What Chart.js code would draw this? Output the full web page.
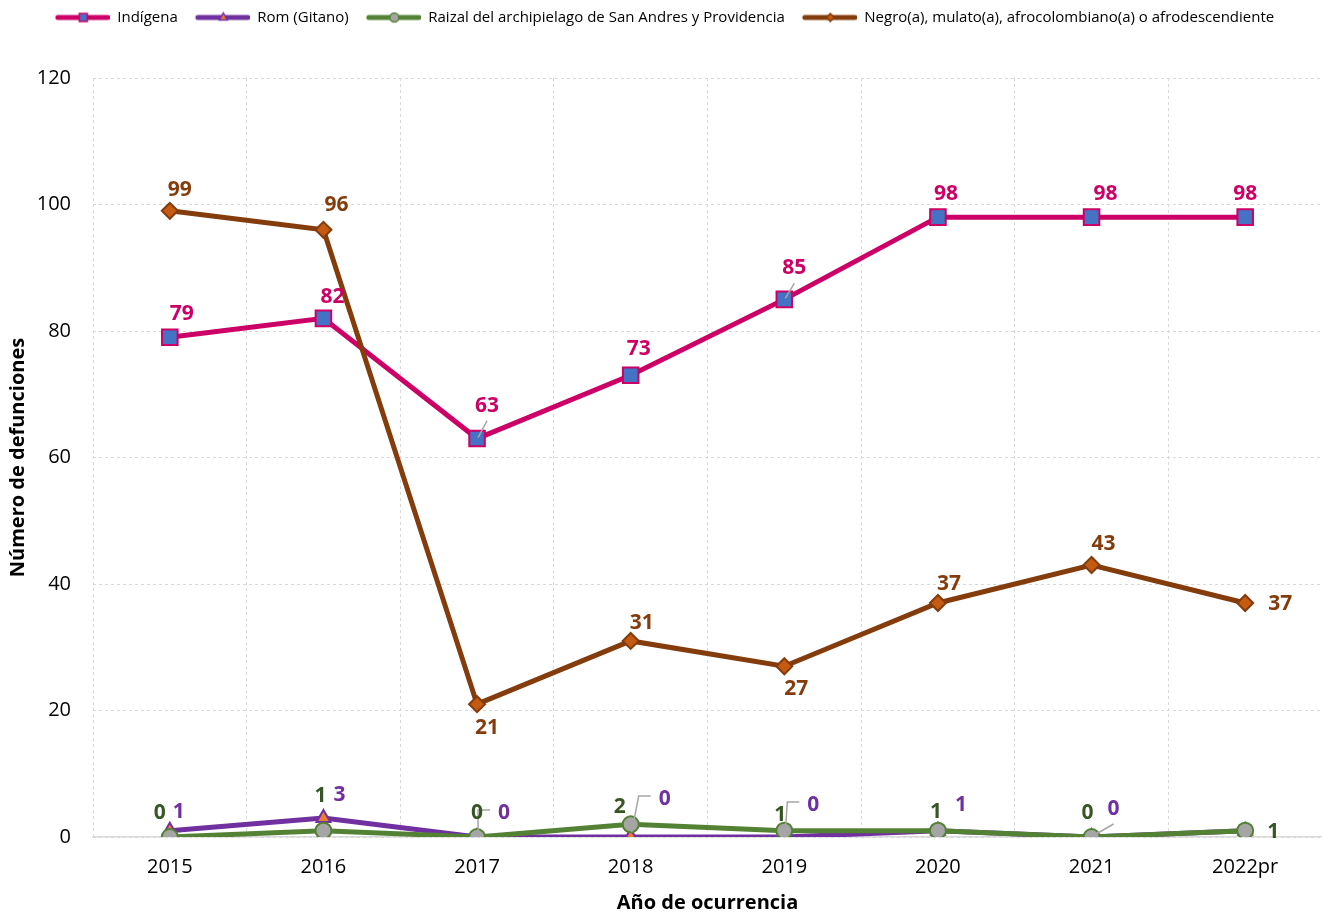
<!DOCTYPE html>
<html>
<head>
<meta charset="utf-8">
<script src="https://cdn.jsdelivr.net/npm/chart.js@4"></script>
<style>
html, body { margin: 0; padding: 0; background: #fff; overflow: hidden; }
#wrap { width: 1322px; height: 915px; }
</style>
</head>
<body>
<div id="wrap"><canvas id="chart"></canvas></div>
<script>
// values
const years = ['2015', '2016', '2017', '2018', '2019', '2020', '2021', '2022pr'];
const indigena = [79, 82, 63, 73, 85, 98, 98, 98];
const rom = [1, 3, 0, 0, 0, 1, 0, 1];
const raizal = [0, 1, 0, 2, 1, 1, 0, 1];
const negro = [99, 96, 21, 31, 27, 37, 43, 37];
const seriesNames = [
    'Indígena',
    'Rom (Gitano)',
    'Raizal del archipielago de San Andres y Providencia',
    'Negro(a), mulato(a), afrocolombiano(a) o afrodescendiente'
];
const yMin = 0, yMax = 120, yStep = 20;

const FONT = '"Open Sans", "Noto Sans", sans-serif';

// label placement: [dx, dy, leader] relative to the point (null = no label)
const labelOffsets = [
    [[12, -23], [9, -21], [10, -33, 'd'], [8, -26], [10, -31, 'd'], [8, -23], [14, -23], [0, -23]],
    [[9, -19], [16, -23], [27, -24, 'e'], [34, -38, 'e'], [29, -32, 'e'], [23, -26], [22, -28, 'd'], null],
    [[-10, -24], [-3, -35], [0, -24], [-11, -17], [-4, -16], [-2, -19], [-4, -24], [28, 1]],
    [[10, -21], [13, -25], [10, 24], [11, -18], [12, 23], [11, -19], [12, -21], [35, 1]]
];
const labelColors = ['#CC0066', '#7030A0', '#375623', '#843C0C'];

const lineColors = ['#CC0066', '#7030A0', '#548235', '#843C0C'];
const markerFill = ['#4472C4', '#ED7D31', '#A5A5A5', '#C55A11'];
const markerStyle = ['rect', 'triangle', 'circle', 'rectRot'];
const markerRadius = [11, 8, 8, 8];

// legend icons: line with small marker in the middle
const ICON_W = 62;
const makeIcon = (i) => {
    const c = document.createElement('canvas');
    c.width = ICON_W; c.height = 16;
    const g = c.getContext('2d');
    g.strokeStyle = lineColors[i];
    g.lineWidth = 5;
    g.lineCap = 'round';
    g.beginPath(); g.moveTo(10, 8); g.lineTo(60, 8); g.stroke();
    const cx = 35.5;
    g.fillStyle = markerFill[i];
    g.strokeStyle = lineColors[i];
    g.lineWidth = 1.5;
    g.beginPath();
    if (i === 0) { g.rect(cx - 4, 4, 8, 8); }
    else if (i === 1) { g.moveTo(cx, 3.5); g.lineTo(cx + 4, 10.5); g.lineTo(cx - 4, 10.5); g.closePath(); }
    else if (i === 2) { g.arc(cx, 8, 4.5, 0, Math.PI * 2); }
    else { g.moveTo(cx, 4); g.lineTo(cx + 4, 8); g.lineTo(cx, 12); g.lineTo(cx - 4, 8); g.closePath(); }
    g.fill(); g.stroke();
    return c;
};

const legendSpacer = {
    id: 'legendSpacer',
    beforeInit(chart) {
        const origFit = chart.legend.fit;
        chart.legend.fit = function () {
            origFit.bind(chart.legend)();
            this.height += 43;
        };
    }
};

const pointLabels = {
    id: 'pointLabels',
    afterDatasetsDraw(chart) {
        const ctx = chart.ctx;
        ctx.save();
        ctx.font = 'bold 21px ' + FONT;
        ctx.textAlign = 'center';
        ctx.textBaseline = 'middle';
        labelOffsets.forEach((offs, d) => {
            const meta = chart.getDatasetMeta(d);
            const values = chart.data.datasets[d].data;
            meta.data.forEach((pt, i) => {
                const off = offs[i];
                if (!off) return;
                const lx = pt.x + off[0], ly = pt.y + off[1];
                if (off[2]) {
                    ctx.strokeStyle = '#A6A6A6';
                    ctx.lineWidth = 1.5;
                    ctx.beginPath();
                    if (off[2] === 'd') {
                        ctx.moveTo(pt.x + 1, pt.y - 1);
                        ctx.lineTo(lx, ly + 15);
                    } else {
                        ctx.moveTo(pt.x + 1, pt.y - 5);
                        ctx.lineTo(lx - 26, ly - 3);
                        ctx.lineTo(lx - 14, ly - 3);
                    }
                    ctx.stroke();
                }
                ctx.fillStyle = labelColors[d];
                ctx.fillText(String(values[i]), lx, ly);
            });
        });
        ctx.restore();
    }
};

const seriesData = [indigena, rom, raizal, negro];
const datasets = seriesData.map((data, i) => ({
    label: seriesNames[i],
    data: data,
    borderColor: lineColors[i],
    backgroundColor: markerFill[i],
    borderWidth: 5,
    pointStyle: markerStyle[i],
    pointRadius: markerRadius[i],
    pointHoverRadius: markerRadius[i],
    pointBackgroundColor: markerFill[i],
    pointBorderColor: lineColors[i],
    pointBorderWidth: 2,
    tension: 0,
    order: 4 - i
}));

new Chart(document.getElementById('chart'), {
    type: 'line',
    data: { labels: years, datasets: datasets },
    options: {
        responsive: true,
        maintainAspectRatio: false,
        animation: false,
        layout: { autoPadding: false, padding: 0 },
        plugins: {
            tooltip: { enabled: false },
            legend: {
                position: 'top',
                labels: {
                    usePointStyle: true,
                    pointStyleWidth: ICON_W,
                    padding: 10,
                    color: '#000',
                    font: { family: FONT, size: 15 },
                    generateLabels: (chart) => chart.data.datasets.map((ds, i) => ({
                        text: ds.label,
                        pointStyle: makeIcon(i),
                        datasetIndex: i,
                        hidden: false,
                        lineWidth: 0,
                        fillStyle: 'transparent',
                        strokeStyle: 'transparent',
                        fontColor: '#000'
                    }))
                }
            }
        },
        scales: {
            x: {
                offset: true,
                grid: { display: true, offset: true, color: '#D9D9D9', drawTicks: false },
                border: { display: true, color: '#D9D9D9', width: 1.5, dash: [3, 3] },
                ticks: { color: '#000', padding: 18, font: { family: FONT, size: 20 } },
                title: {
                    display: true,
                    text: 'Año de ocurrencia',
                    color: '#000',
                    font: { family: FONT, size: 20, weight: 'bold' },
                    padding: { top: 0, bottom: 0 }
                },
                afterFit: (scale) => {
                    scale.height = 78;
                    scale.paddingLeft = 0;
                    scale.paddingRight = 0;
                }
            },
            y: {
                min: yMin,
                max: yMax,
                grid: { color: '#D9D9D9', drawTicks: false },
                border: { display: false, dash: [3, 3] },
                ticks: { stepSize: yStep, color: '#000', padding: 22, font: { family: FONT, size: 20 } },
                title: {
                    display: true,
                    text: 'Número de defunciones',
                    color: '#000',
                    font: { family: FONT, size: 20, weight: 'bold' },
                    padding: { top: 6, bottom: 0 }
                },
                afterFit: (scale) => { scale.width = 93; }
            }
        }
    },
    plugins: [legendSpacer, pointLabels]
});
</script>
</body>
</html>
